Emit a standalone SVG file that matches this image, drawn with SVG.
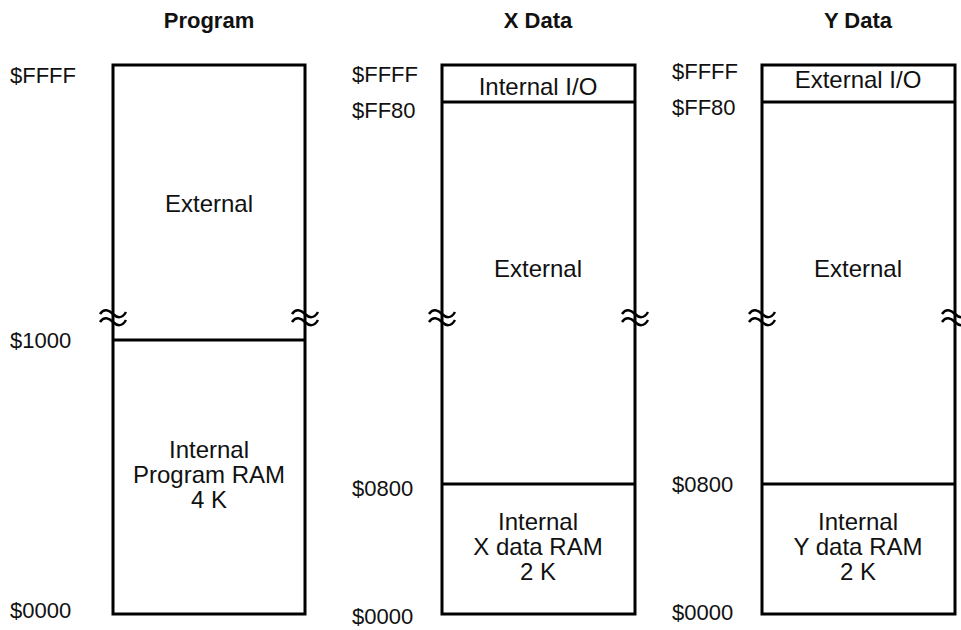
<svg xmlns="http://www.w3.org/2000/svg" xmlns:xlink="http://www.w3.org/1999/xlink" width="961" height="630" viewBox="0 0 961 630">
<style>
text{font-family:"Liberation Sans",Arial,sans-serif;fill:#111}
.title{font-size:22px;font-weight:bold;text-anchor:middle}
.addr{font-size:22px}
.lbl{font-size:24px;text-anchor:middle}
.box{fill:none;stroke:#000;stroke-width:3}
.ln{stroke:#000;stroke-width:3}
.brk{fill:none;stroke:#000;stroke-width:2.5}
</style>
<defs>
<g id="brk">
<path class="brk" d="M-13,-3 C-9,-9 -4,-7 0,-3 S9,2 13,-5"/>
<path class="brk" d="M-13,5 C-9,-1 -4,1 0,5 S9,10 13,3"/>
</g>
</defs>
<g id="titles">
<text class="title" x="209" y="28">Program</text>
<text class="title" x="538" y="28">X Data</text>
<text class="title" x="858" y="28">Y Data</text>
</g>
<g id="program">
<rect class="box" x="113" y="65" width="192" height="549"/>
<line class="ln" x1="113" y1="340" x2="305" y2="340"/>
<use xlink:href="#brk" x="113" y="317"/>
<use xlink:href="#brk" x="305" y="317"/>
<text class="addr" x="10" y="83">$FFFF</text>
<text class="addr" x="10" y="348">$1000</text>
<text class="addr" x="10" y="618">$0000</text>
<text class="lbl" x="209" y="212">External</text>
<text class="lbl" x="209" y="458">Internal</text>
<text class="lbl" x="209" y="483">Program RAM</text>
<text class="lbl" x="209" y="508">4 K</text>
</g>
<g id="xdata">
<rect class="box" x="442" y="65" width="193" height="549"/>
<line class="ln" x1="442" y1="102" x2="635" y2="102"/>
<line class="ln" x1="442" y1="484" x2="635" y2="484"/>
<use xlink:href="#brk" x="442" y="317"/>
<use xlink:href="#brk" x="635" y="317"/>
<text class="addr" x="352" y="82">$FFFF</text>
<text class="addr" x="352" y="118">$FF80</text>
<text class="addr" x="352" y="496">$0800</text>
<text class="addr" x="352" y="624">$0000</text>
<text class="lbl" x="538" y="95">Internal I/O</text>
<text class="lbl" x="538" y="277">External</text>
<text class="lbl" x="538" y="530">Internal</text>
<text class="lbl" x="538" y="555">X data RAM</text>
<text class="lbl" x="538" y="580">2 K</text>
</g>
<g id="ydata">
<rect class="box" x="762" y="65" width="193" height="549"/>
<line class="ln" x1="762" y1="102" x2="955" y2="102"/>
<line class="ln" x1="762" y1="484" x2="955" y2="484"/>
<use xlink:href="#brk" x="762" y="317"/>
<use xlink:href="#brk" x="955" y="317"/>
<text class="addr" x="672" y="79">$FFFF</text>
<text class="addr" x="672" y="115">$FF80</text>
<text class="addr" x="672" y="492">$0800</text>
<text class="addr" x="672" y="620">$0000</text>
<text class="lbl" x="858" y="88">External I/O</text>
<text class="lbl" x="858" y="277">External</text>
<text class="lbl" x="858" y="530">Internal</text>
<text class="lbl" x="858" y="555">Y data RAM</text>
<text class="lbl" x="858" y="580">2 K</text>
</g>
<g id="connectors"/>
</svg>
